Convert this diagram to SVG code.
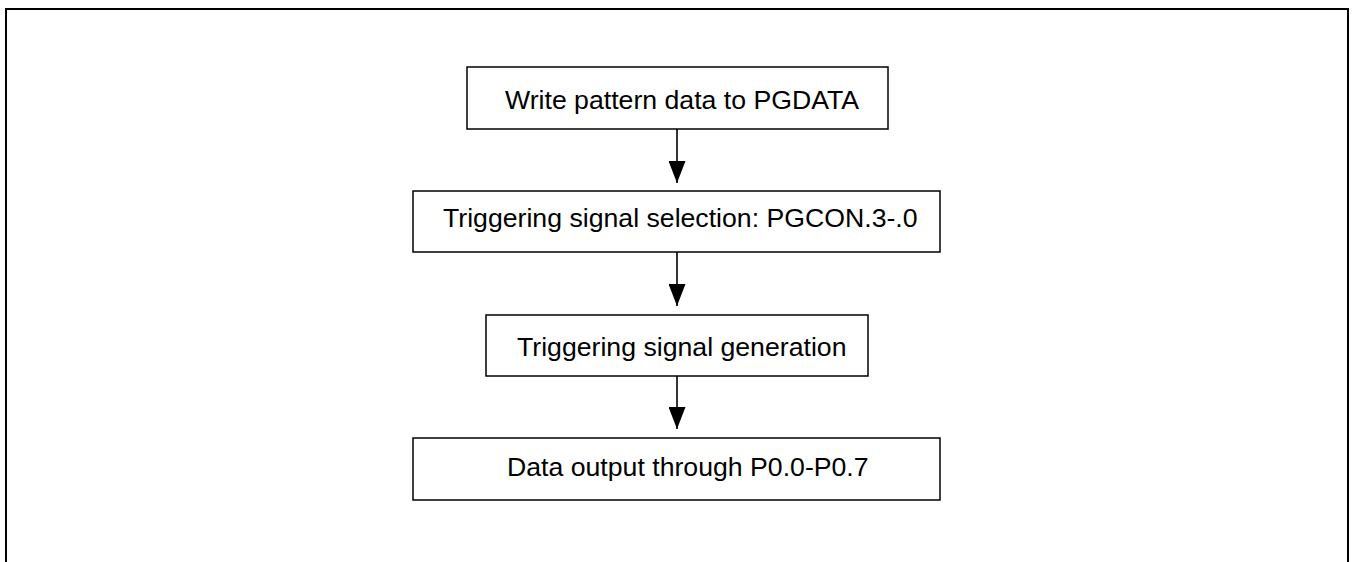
<svg xmlns="http://www.w3.org/2000/svg" width="1352" height="562" viewBox="0 0 1352 562">
<style>
.box{fill:#fff;stroke:#000;stroke-width:1.5}
.lbl{font-family:"Liberation Sans",Arial,sans-serif;font-size:26.67px;fill:#000}
.con{stroke:#000;stroke-width:1.6;fill:none}
</style>
<defs>
<marker id="ah" markerUnits="userSpaceOnUse" markerWidth="22" markerHeight="17" refX="22" refY="8.5" orient="auto">
<path d="M0,0 L22,8.5 L0,17 Z" fill="#000"/>
</marker>
</defs>
<rect width="1352" height="562" fill="#fff"/>
<path d="M6,562 V9 H1348 V562" fill="none" stroke="#000" stroke-width="2"/>
<g id="n1"><rect class="box" x="467" y="67" width="421" height="62"/><text class="lbl" x="505" y="109">Write pattern data to PGDATA</text></g>
<g id="n2"><rect class="box" x="413" y="191" width="527" height="61"/><text class="lbl" x="443" y="227">Triggering signal selection: PGCON.3-.0</text></g>
<g id="n3"><rect class="box" x="486" y="315" width="382" height="61"/><text class="lbl" x="517" y="356">Triggering signal generation</text></g>
<g id="n4"><rect class="box" x="413" y="438" width="527" height="62"/><text class="lbl" x="507" y="476">Data output through P0.0-P0.7</text></g>
<g id="connectors">
<line class="con" x1="677" y1="129" x2="677" y2="183" marker-end="url(#ah)"/>
<line class="con" x1="677" y1="252" x2="677" y2="306" marker-end="url(#ah)"/>
<line class="con" x1="677" y1="376" x2="677" y2="429" marker-end="url(#ah)"/>
</g>
</svg>
